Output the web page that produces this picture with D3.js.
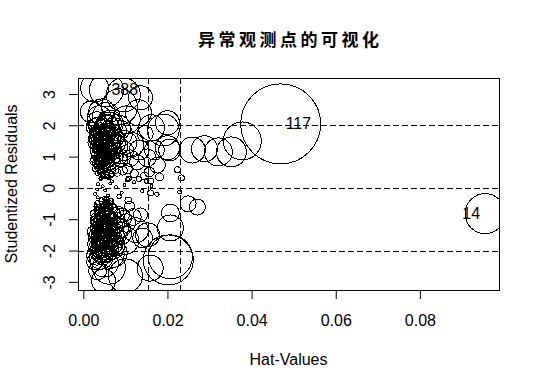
<!DOCTYPE html>
<html>
<head>
<meta charset="utf-8">
<script src="https://cdn.jsdelivr.net/npm/d3@7"></script>
<style>
  body { margin: 0; background: #fff; }
  text { font-family: 'Liberation Sans', Arial, sans-serif; }
</style>
</head>
<body>
<script>
// chart texts
const chartTitle = '异常观测点的可视化';
const xTitle = 'Hat-Values';
const yTitle = 'Studentized Residuals';

// axis ticks
const xTicks = [0, 0.02, 0.04, 0.06, 0.08];
const xTickLabels = ['0.00', '0.02', '0.04', '0.06', '0.08'];
const yTicks = [-3, -2, -1, 0, 1, 2, 3];
const yTickLabels = ['-3', '-2', '-1', '0', '1', '2', '3'];

// reference lines (2*mean hat, 3*mean hat; residual -2, 0, 2)
const hatCutoffs = [0.0154, 0.0231];
const residCutoffs = [-2, 0, 2];

// labelled observations (first entries of the flagged arrays)
const pointIds = ['117', '14', '388'];

// flagged / large influence points
const hatFlagged = [
  .0469, .0955, .0055, .0027, .0095, .0086, .0136, .0131, .0038, .0062,
  .0019, .0081, .0102, .0048, .0162, .0190, .0200, .0147, .0200, .0205,
  .0169, .0152, .0133, .0176, .0157, .0181, .0145, .0224, .0233, .0259,
  .0288, .0321, .0352, .0378, .0249, .0271, .0207, .0207, .0153, .0136,
  .0202, .0207, .0159, .0160, .0160, .0229, .0088, .0046, .0034, .0048,
  .0100, .0141, .0069, .0027
];
const resFlagged = [
  2.045, -0.82, 3.13, 3.19, 2.97, 2.59, 2.88, 2.40, 2.24, 2.04,
  2.43, 1.92, 2.17, 1.69, 1.92, 1.85, 2.08, 1.73, 1.28, 1.21,
  1.21, 0.96, 1.21, 0.73, 0.51, 0.35, 0.38, 0.58, 0.32, 1.21,
  1.25, 1.15, 1.15, 1.50, -0.51, -0.61, -0.80, -1.28, -1.50, -0.86,
  -2.30, -2.20, -2.56, 0.22, -0.16, -0.13, -1.28, -2.14, -2.65, -2.97,
  -2.81, -1.60, -1.82, -2.36
];
const cookFlagged = [
  .052, .013, .0094, .0064, .0094, .0105, .0047, .0055, .0047, .0047,
  .0039, .0055, .0064, .00325, .0055, .0083, .0047, .0021, .0047, .0039,
  .00325, .0026, .00325, .0021, .00081, .00052, .00052, .00029, .00029, .0055,
  .0055, .0064, .0073, .0117, .0021, .0021, .0026, .0055, .0047, .0016,
  .0203, .0157, .0055, .00029, .00029, .00013, .00325, .00325, .0026, .0047,
  .0094, .00325, .00325, .0021
];

// positive residual cloud
const hatUpper = [
  .0031, .0045, .0052, .0038, .0061, .0027, .0049, .0042, .0068, .0035,
  .0057, .0044, .0029, .0074, .0051, .0039, .0063, .0047, .0033, .0055,
  .0082, .0041, .0025, .0059, .0036, .0070, .0048, .0053, .0032, .0066,
  .0043, .0078, .0037, .0058, .0046, .0028, .0064, .0050, .0034, .0089,
  .0054, .0040, .0062, .0045, .0030, .0072, .0056, .0039, .0047, .0060,
  .0097, .0035, .0052, .0044, .0067, .0024, .0049, .0041, .0076, .0058,
  .0033, .0105, .0112, .0121, .0128, .0115, .0094, .0108, .0085, .0026,
  .0043, .0056, .0037, .0065, .0048, .0032, .0071, .0053, .0040, .0060,
  .0046, .0035, .0081, .0051, .0029, .0069, .0044, .0058, .0038, .0054,
  .0063, .0047, .0034, .0075, .0050, .0041, .0087, .0057, .0036, .0066,
  .0045, .0052, .0099, .0039, .0061, .0048, .0030, .0073, .0055, .0042
];
const resUpper = [
  1.62, 1.05, 0.78, 1.31, 1.48, 0.92, 1.87, 0.55, 1.12, 1.96,
  0.41, 1.40, 1.18, 0.86, 1.66, 0.68, 2.05, 1.24, 0.47, 1.02,
  1.35, 1.78, 1.44, 0.63, 0.98, 1.59, 0.35, 1.29, 2.12, 0.74,
  1.55, 1.05, 0.83, 1.92, 1.14, 0.61, 1.37, 0.95, 1.71, 0.88,
  2.28, 0.52, 1.21, 1.48, 1.03, 1.83, 0.69, 1.26, 0.44, 1.64,
  1.18, 0.77, 1.10, 2.42, 0.57, 0.85, 1.52, 0.31, 1.42, 0.91,
  1.37, 0.62, 0.95, 0.45, 0.82, 1.38, 0.55, 0.30, 1.74, 1.95,
  0.64, 1.22, 0.87, 1.51, 0.39, 1.08, 0.97, 1.73, 0.58, 0.81,
  1.33, 0.72, 0.49, 1.15, 1.58, 1.27, 0.93, 0.36, 1.66, 0.53,
  1.02, 1.84, 0.66, 0.60, 1.40, 0.84, 1.01, 1.12, 1.28, 0.43,
  1.69, 0.70, 1.45, 1.05, 0.34, 0.89, 0.78, 1.19, 1.96, 1.47
];
const cookUpper = [
  .00179, .00109, .00070, .00143, .00294, .00050, .00377, .00028, .00188, .00296,
  .00021, .00190, .00089, .00120, .00310, .00040, .00582, .00159, .00016, .00126,
  .00329, .00286, .00114, .00052, .00076, .00389, .00013, .00194, .00316, .00080,
  .00227, .00189, .00056, .00471, .00132, .00023, .00265, .00099, .00219, .00152,
  .00618, .00024, .00199, .00217, .00070, .00531, .00059, .00136, .00020, .00355,
  .00297, .00046, .00138, .00567, .00048, .00038, .00249, .00009, .00338, .00106,
  .00136, .00089, .00222, .00054, .00189, .00481, .00063, .00021, .00566, .00217,
  .00039, .00184, .00062, .00326, .00016, .00082, .00147, .00349, .00030, .00087,
  .00179, .00040, .00043, .00148, .00160, .00245, .00084, .00017, .00231, .00033,
  .00144, .00350, .00033, .00059, .00216, .00064, .00195, .00157, .00130, .00027,
  .00283, .00056, .00457, .00094, .00016, .00083, .00040, .00228, .00465, .00200
];

// negative residual cloud
const hatLower = [
  .0046, .0053, .0038, .0061, .0042, .0057, .0031, .0066, .0049, .0035,
  .0071, .0044, .0055, .0028, .0050, .0062, .0040, .0047, .0079, .0036,
  .0058, .0043, .0069, .0033, .0052, .0045, .0064, .0039, .0056, .0030,
  .0074, .0048, .0041, .0060, .0034, .0054, .0083, .0046, .0037, .0065,
  .0051, .0027, .0059, .0043, .0070, .0049, .0036, .0057, .0045, .0032,
  .0063, .0053, .0040, .0088, .0048, .0025, .0067, .0042, .0055, .0038,
  .0093, .0102, .0110, .0118, .0099, .0125, .0107, .0022, .0029, .0050,
  .0061, .0034, .0073, .0044, .0058,
  .0044, .0058, .0036, .0063, .0050, .0031, .0069, .0047, .0040, .0055,
  .0078, .0042, .0033, .0061, .0052, .0038, .0072, .0046, .0057, .0035,
  .0066, .0049, .0027, .0084, .0053, .0041, .0060, .0045, .0096, .0037,
  .0068, .0051, .0039, .0075, .0056, .0043, .0032, .0064, .0048, .0059
];
const resLower = [
  -0.62, -1.05, -1.37, -0.88, -1.72, -0.45, -1.12, -1.54, -0.79, -1.91,
  -0.67, -1.25, -1.63, -0.95, -0.34, -1.18, -0.71, -2.03, -1.02, -1.45,
  -0.56, -0.99, -1.81, -0.48, -1.31, -1.58, -0.41, -0.84, -1.97, -1.28,
  -1.22, -0.58, -1.66, -0.93, -0.73, -1.44, -0.76, -1.88, -1.08, -1.39,
  -0.86, -1.55, -1.15, -0.38, -2.08, -1.49, -0.64, -1.76, -1.20, -2.15,
  -0.52, -1.93, -1.03, -1.46, -1.34, -0.82, -0.98, -2.22, -0.69, -1.61,
  -0.87, -1.12, -0.58, -0.93, -1.68, -1.35, -0.40, -1.40, -1.79, -2.40,
  -2.55, -0.30, -1.60, -1.85, -1.23,
  -0.51, -1.27, -0.83, -1.62, -1.11, -1.48, -0.63, -1.95, -0.92, -0.37,
  -1.18, -1.70, -0.70, -1.36, -0.47, -1.02, -1.53, -1.79, -0.75, -1.24,
  -0.44, -1.13, -1.06, -1.30, -0.89, -2.02, -1.41, -0.66, -0.97, -1.58,
  -1.87, -0.54, -1.21, -0.81, -1.50, -1.34, -0.60, -2.12, -1.09, -0.95
];
const cookLower = [
  .00039, .00128, .00157, .00104, .00273, .00025, .00085, .00344, .00067, .00281,
  .00070, .00151, .00322, .00055, .00013, .00190, .00044, .00426, .00181, .00166,
  .00040, .00093, .00498, .00017, .00197, .00247, .00024, .00061, .00478, .00108,
  .00243, .00035, .00249, .00114, .00040, .00246, .00106, .00357, .00095, .00276,
  .00083, .00143, .00171, .00014, .00667, .00239, .00032, .00389, .00143, .00325,
  .00037, .00434, .00093, .00413, .00190, .00037, .00142, .00455, .00058, .00217,
  .00155, .00281, .00081, .00225, .00614, .00501, .00038, .00095, .00204, .00634,
  .00873, .00007, .00411, .00331, .00193,
  .00025, .00205, .00055, .00363, .00135, .00149, .00060, .00393, .00074, .00017,
  .00239, .00267, .00036, .00248, .00025, .00087, .00371, .00324, .00071, .00119,
  .00028, .00138, .00067, .00312, .00092, .00368, .00263, .00043, .00199, .00204,
  .00524, .00033, .00125, .00108, .00277, .00170, .00025, .00632, .00126, .00117
];

// near-zero residuals
const hatZero = [
  .0035, .0052, .0068, .0091, .0046, .0120, .0140, .0028, .0078, .0105,
  .0162, .0059, .0132, .0041, .0085, .0175, .0064, .0150, .0098, .0033
];
const resZero = [
  0.12, -0.08, 0.21, -0.15, 0.05, 0.18, -0.10, -0.19, 0.02, 0.26,
  0.06, -0.24, 0.29, 0.27, -0.28, -0.20, 0.14, 0.22, 0.09, -0.05
];
const cookZero = [
  .00001, .000007, .00007, .00005, .000003, .00009, .00003, .00002, .000001, .00016,
  .00001, .00007, .00024, .00007, .00015, .00015, .00003, .00016, .00002, .000002
];

const hatValues = hatFlagged.concat(hatUpper, hatLower, hatZero);
const studRes = resFlagged.concat(resUpper, resLower, resZero);
const cookD = cookFlagged.concat(cookUpper, cookLower, cookZero);

const points = hatValues.map((h, i) => ({
  hat: h,
  res: studRes[i],
  cook: cookD[i],
  id: i < pointIds.length ? pointIds[i] : null
}));

// svg canvas
const width = 540;
const height = 387;
const plot = { left: 78, right: 499, top: 78, bottom: 290 };

const svg = d3.select('body').append('svg')
  .attr('width', width)
  .attr('height', height);

// scales
const xScale = d3.scaleLinear()
  .domain([-0.00126, 0.0988])
  .range([plot.left, plot.right]);
const yScale = d3.scaleLinear()
  .domain([-3.26, 3.51])
  .range([plot.bottom, plot.top]);
const rScale = d3.scaleSqrt()
  .domain([0, d3.max(cookD)])
  .range([0, 40]);

svg.append('clipPath').attr('id', 'plot-clip')
  .append('rect')
  .attr('x', plot.left + 0.5)
  .attr('y', plot.top + 0.5)
  .attr('width', plot.right - plot.left)
  .attr('height', plot.bottom - plot.top);

// reference lines
svg.append('g').selectAll('line')
  .data(hatCutoffs)
  .enter().append('line')
  .attr('x1', d => Math.round(xScale(d)) + 0.5)
  .attr('x2', d => Math.round(xScale(d)) + 0.5)
  .attr('y1', plot.top)
  .attr('y2', plot.bottom)
  .attr('stroke', '#000')
  .attr('stroke-dasharray', '6,3');

svg.append('g').selectAll('line')
  .data(residCutoffs)
  .enter().append('line')
  .attr('x1', plot.left)
  .attr('x2', plot.right)
  .attr('y1', d => Math.round(yScale(d)) + 0.5)
  .attr('y2', d => Math.round(yScale(d)) + 0.5)
  .attr('stroke', '#000')
  .attr('stroke-dasharray', '6,3');

// bubbles (radius ~ sqrt(Cook's D))
svg.append('g')
  .attr('clip-path', 'url(#plot-clip)')
  .selectAll('circle')
  .data(points)
  .enter().append('circle')
  .attr('cx', d => xScale(d.hat))
  .attr('cy', d => yScale(d.res))
  .attr('r', d => Math.max(1.5, rScale(d.cook)))
  .attr('fill', 'none')
  .attr('stroke', '#000')
  .attr('stroke-width', 1)
  .style('shape-rendering', 'crispEdges');

// point labels: right of point unless near right edge
const midHat = (xScale.domain()[0] + xScale.domain()[1]) / 2;
svg.append('g')
  .attr('clip-path', 'url(#plot-clip)')
  .selectAll('text')
  .data(points.filter(d => d.id))
  .enter().append('text')
  .attr('x', d => xScale(d.hat) + (d.hat > midHat ? -5 : 5))
  .attr('y', d => yScale(d.res))
  .attr('dy', '0.35em')
  .attr('text-anchor', d => d.hat > midHat ? 'end' : 'start')
  .style('font-size', '16px')
  .attr('fill', '#000')
  .text(d => d.id);

// box
svg.append('rect')
  .attr('x', plot.left + 0.5)
  .attr('y', plot.top + 0.5)
  .attr('width', plot.right - plot.left)
  .attr('height', plot.bottom - plot.top)
  .attr('fill', 'none')
  .attr('stroke', '#000');

// axes
const xAxis = d3.axisBottom(xScale)
  .tickValues(xTicks)
  .tickSize(9)
  .tickFormat((d, i) => xTickLabels[i]);
const gx = svg.append('g')
  .attr('transform', 'translate(0,' + plot.bottom + ')')
  .call(xAxis);
gx.select('.domain').remove();
gx.selectAll('text')
  .attr('y', 36)
  .attr('dy', null)
  .attr('fill', '#000')
  .style('font-size', '16px')
  .style('font-family', "'Liberation Sans', Arial, sans-serif");
gx.selectAll('line').attr('stroke', '#000');

const yAxis = d3.axisLeft(yScale)
  .tickValues(yTicks)
  .tickSize(9)
  .tickFormat((d, i) => yTickLabels[i]);
const gy = svg.append('g')
  .attr('transform', 'translate(' + plot.left + ',0)')
  .call(yAxis);
gy.select('.domain').remove();
gy.selectAll('text')
  .attr('x', null)
  .attr('dy', null)
  .attr('text-anchor', 'middle')
  .attr('transform', 'translate(-23,0) rotate(-90)')
  .attr('fill', '#000')
  .style('font-size', '16px')
  .style('font-family', "'Liberation Sans', Arial, sans-serif");
gy.selectAll('line').attr('stroke', '#000');

// titles
const titleSpacing = 3.5;
svg.append('text')
  .attr('x', (plot.left + plot.right) / 2 + titleSpacing / 2)
  .attr('y', 46)
  .attr('text-anchor', 'middle')
  .style('font-family', "'Noto Sans CJK SC', sans-serif")
  .style('font-weight', 'bold')
  .style('font-size', '17px')
  .style('letter-spacing', titleSpacing + 'px')
  .text(chartTitle);

svg.append('text')
  .attr('x', (plot.left + plot.right) / 2)
  .attr('y', 365)
  .attr('text-anchor', 'middle')
  .style('font-size', '16px')
  .text(xTitle);

svg.append('text')
  .attr('transform', 'translate(17,' + (plot.top + plot.bottom) / 2 + ') rotate(-90)')
  .attr('text-anchor', 'middle')
  .style('font-size', '16px')
  .text(yTitle);
</script>
</body>
</html>
